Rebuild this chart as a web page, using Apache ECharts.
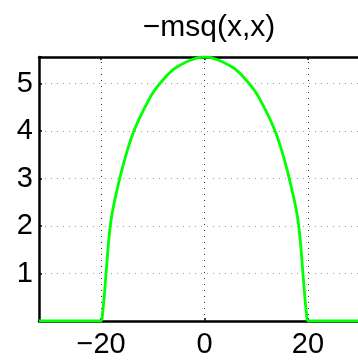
<!DOCTYPE html>
<html>
<head>
<meta charset="utf-8">
<script src="https://cdn.jsdelivr.net/npm/echarts@6/dist/echarts.min.js"></script>
<style>html,body{margin:0;padding:0;background:#fff}#c{width:358px;height:364px}</style>
</head>
<body>
<div id="c"></div>
<script>
var titleText = '\u2212msq(x,x)';
var xTicks = [-20, 0, 20];
var yTicks = [1, 2, 3, 4, 5];
var xValues = [-32, -20, -19.7, -19.4, -19, -18.5, -18, -17.5, -17, -16.5, -16, -15, -14, -13, -12, -11, -10, -9, -8, -7, -6, -5, -4, -3, -2, -1, 0, 1, 2, 3, 4, 5, 6, 7, 8, 9, 10, 11, 12, 13, 14, 15, 16, 16.5, 17, 17.5, 18, 18.5, 19, 19.4, 19.7, 20, 32];
var yValues = [0, 0, 0.18, 0.5, 1.05, 1.72, 2.18, 2.47, 2.72, 2.95, 3.17, 3.56, 3.9, 4.17, 4.4, 4.61, 4.8, 4.95, 5.08, 5.2, 5.3, 5.37, 5.43, 5.48, 5.52, 5.55, 5.56, 5.55, 5.52, 5.48, 5.43, 5.37, 5.3, 5.2, 5.08, 4.95, 4.8, 4.61, 4.4, 4.17, 3.9, 3.56, 3.17, 2.95, 2.72, 2.47, 2.18, 1.72, 1.05, 0.5, 0.18, 0, 0];

var chart = echarts.init(document.getElementById('c'), null, {renderer: 'canvas'});
var font = 'Liberation Sans, Arial, Helvetica, sans-serif';
var pts = xValues.map(function (x, i) { return [x, yValues[i]]; });
chart.setOption({
  animation: false,
  backgroundColor: '#fff',
  title: {
    text: titleText, left: 204, top: 8, textAlign: 'center',
    textStyle: {fontFamily: font, fontSize: 30, fontWeight: 'normal', color: '#000'}
  },
  grid: {left: 39, top: 57, right: -12, bottom: 43, containLabel: false, outerBoundsMode: 'none'},
  xAxis: [{
    type: 'value', min: -32, max: 32, position: 'bottom',
    axisLine: {show: true, onZero: false, lineStyle: {color: '#000', width: 2.5}},
    axisTick: {show: true, inside: true, length: 3, customValues: xTicks, lineStyle: {color: '#000', width: 1.5}},
    axisLabel: {show: true, customValues: xTicks, margin: 9, fontFamily: font, fontSize: 29, color: '#000',
      formatter: function (v) { return v < 0 ? '\u2212' + Math.abs(v) : String(v); }},
    splitLine: {show: false}
  }, {
    type: 'value', min: -32, max: 32, position: 'top',
    axisLine: {show: true, onZero: false, lineStyle: {color: '#000', width: 2.5}},
    axisTick: {show: true, inside: true, length: 3, customValues: xTicks, lineStyle: {color: '#000', width: 1.5}},
    axisLabel: {show: false},
    splitLine: {show: false}
  }],
  yAxis: {
    type: 'value', min: 0, max: 5.56, interval: 1,
    axisLine: {show: true, onZero: false, lineStyle: {color: '#000', width: 2.5}},
    axisTick: {show: true, inside: true, length: 3, lineStyle: {color: '#000', width: 1.5}},
    axisLabel: {margin: 6, fontFamily: font, fontSize: 29, color: '#000',
      formatter: function (v) { return yTicks.indexOf(v) >= 0 ? String(v) : ''; }},
    splitLine: {show: true, lineStyle: {color: '#9a9a9a', width: 1, type: [1, 5]}}
  },
  series: [{
    type: 'line', data: [], silent: true, z: 1,
    markLine: {
      silent: true, symbol: 'none', label: {show: false},
      lineStyle: {color: '#333', width: 1, type: [1, 5]},
      data: xTicks.map(function (t) { return {xAxis: t}; })
    }
  }, {
    type: 'line', data: pts, showSymbol: false, z: 5, smooth: 0.25,
    lineStyle: {color: '#00ff00', width: 2.8, join: 'round'},
    itemStyle: {color: '#00ff00'}
  }]
});
</script>
</body>
</html>
